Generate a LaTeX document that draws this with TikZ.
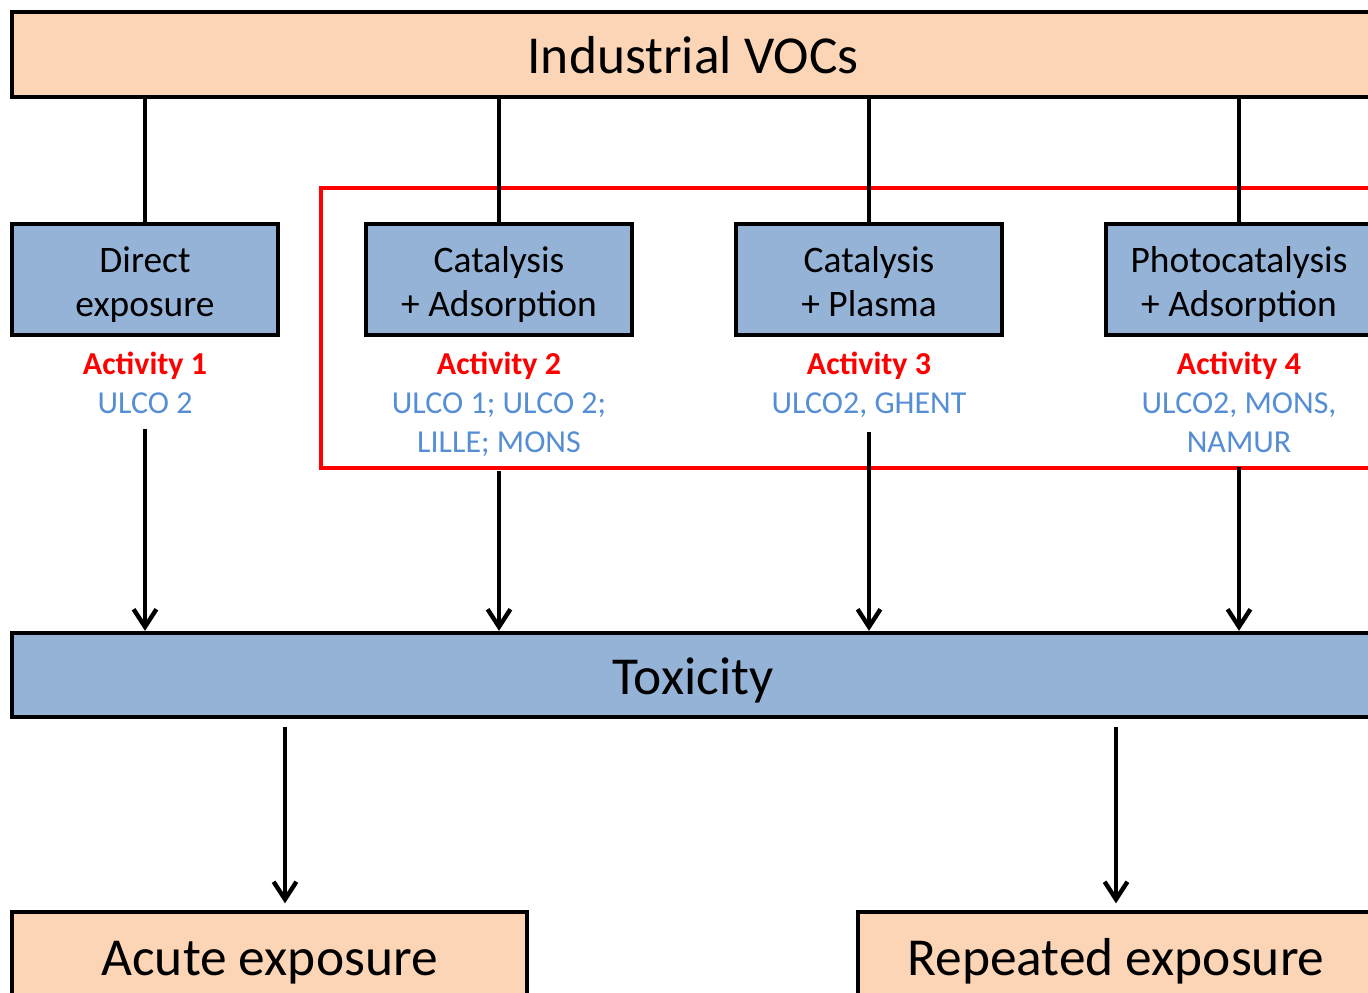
\documentclass[tikz,border=0pt]{standalone}
\usepackage{fontspec}
\setmainfont{Carlito}
\usetikzlibrary{arrows.meta,positioning}
\definecolor{peach}{HTML}{FBD5B5}
\definecolor{steel}{HTML}{95B3D7}
\definecolor{partner}{HTML}{558ED5}
\newcommand{\topstrut}{\rule{0pt}{1.05em}}
\newcommand{\botstrut}{\rule[-0.25em]{0pt}{0pt}}

\begin{document}
\begin{tikzpicture}[x=0.02cm,y=-0.02cm,>={Straight Barb[length=10pt,width=13pt]},
    line width=2.5pt,
    big node/.style={draw,fill=peach,inner sep=0pt,text height=21.9pt,text depth=0pt,font=\fontsize{30.4}{36}\selectfont},
    method node/.style={draw,fill=steel,inner sep=0pt,align=center,minimum width=5.32cm,minimum height=2.22cm,font=\fontsize{21.3}{25.5}\selectfont},
    label node/.style={inner sep=0pt,align=center,font=\fontsize{18.2}{22.1}\selectfont},
    red frame/.style={draw=red,line width=2.1pt}]

    \clip (0,0) rectangle (1368,992);
    \useasboundingbox (0,0) rectangle (1368,992);

    % top and middle bars
    \node[big node,minimum width=27.24cm,minimum height=1.7cm] (vocs) at (693,54.5) {Industrial VOCs};
    \node[big node,fill=steel,minimum width=27.24cm,minimum height=1.68cm] (tox) at (693,675) {Toxicity};

    % treatments
    \draw[red frame] (321,188) rectangle (1380,468);

    \node[method node] (m1) at (145,279.5) {\topstrut Direct\\\botstrut exposure};
    \node[method node] (m2) at (499,279.5) {\topstrut Catalysis\\\botstrut + Adsorption};
    \node[method node] (m3) at (869,279.5) {\topstrut Catalysis\\\botstrut + Plasma};
    \node[method node] (m4) at (1239,279.5) {\topstrut Photocatalysis\\\botstrut + Adsorption};

    \node[label node] (act1) [below=0.25cm of m1]
        {\textcolor{red}{\bfseries Activity 1}\\\textcolor{partner}{ULCO 2}};
    \node[label node] (act2) [below=0.25cm of m2]
        {\textcolor{red}{\bfseries Activity 2}\\\textcolor{partner}{ULCO 1; ULCO 2;}\\\textcolor{partner}{LILLE; MONS}};
    \node[label node] (act3) [below=0.25cm of m3]
        {\textcolor{red}{\bfseries Activity 3}\\\textcolor{partner}{ULCO2, GHENT}};
    \node[label node] (act4) [below=0.25cm of m4]
        {\textcolor{red}{\bfseries Activity 4}\\\textcolor{partner}{ULCO2, MONS,}\\\textcolor{partner}{NAMUR}};

    \foreach \k in {1,...,4}{
        \draw (m\k.north) -- (m\k.north |- vocs.south);
        \draw[->,shorten <=0.26cm] (act\k.south) -- (act\k.south |- tox.north);
    }

    % exposure
    \node[big node,minimum width=10.3cm,minimum height=1.76cm] (acute) at (269.5,956) {Acute exposure};
    \node[big node,minimum width=10.32cm,minimum height=1.76cm] (repeated) at (1116,956) {Repeated exposure};

    \coordinate (a1) at (285,0);
    \coordinate (a2) at (1116,0);
    \draw[->,shorten <=0.15cm,shorten >=0.13cm] (a1 |- tox.south) -- (a1 |- acute.north);
    \draw[->,shorten <=0.15cm,shorten >=0.13cm] (a2 |- tox.south) -- (a2 |- repeated.north);

\end{tikzpicture}
\end{document}
